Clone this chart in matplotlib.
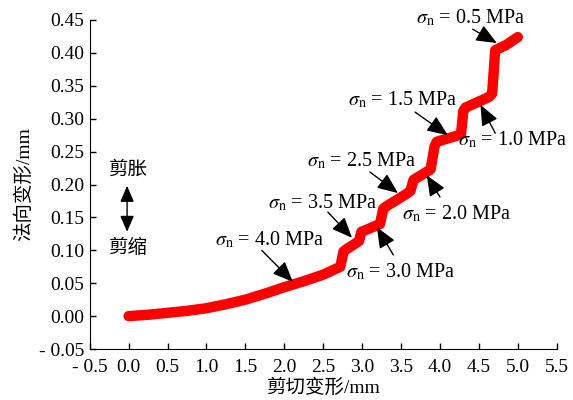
import numpy as np
import matplotlib.pyplot as plt

plt.rcParams['font.family'] = ['Liberation Serif', 'Noto Sans CJK SC']
plt.rcParams['mathtext.fontset'] = 'stix'
plt.rcParams['font.size'] = 14

# Сдвиговая и нормальная деформация, мм
shear = [0.00, 0.25, 0.50, 0.75, 1.00, 1.25, 1.50, 1.75, 2.00, 2.25, 2.50, 2.72,
         2.76, 2.79, 2.96, 2.99, 3.23, 3.27, 3.30, 3.56, 3.62, 3.66, 3.88, 3.93,
         3.96, 4.27, 4.30, 4.33, 4.63, 4.67, 4.71, 4.85, 5.00]
normal = [0.000, 0.002, 0.005, 0.008, 0.012, 0.018, 0.025, 0.034, 0.044, 0.053,
          0.063, 0.075, 0.098, 0.101, 0.114, 0.128, 0.140, 0.163, 0.166, 0.185,
          0.190, 0.207, 0.223, 0.258, 0.265, 0.276, 0.312, 0.317, 0.333, 0.338,
          0.404, 0.412, 0.424]

# Подписи нормального напряжения: текст, положение текста, хвост и голова стрелки
stress = ['0.5', '1.5', '1.0', '2.5', '2.0', '3.5', '3.0', '4.0']
text_xy = [(4.39, 0.453), (3.52, 0.328), (4.93, 0.267), (3.00, 0.236),
           (4.22, 0.155), (2.49, 0.172), (3.50, 0.067), (1.81, 0.116)]
tail_xy = [(4.42, 0.436), (3.68, 0.310), (4.71, 0.278), (3.10, 0.219),
           (4.00, 0.181), (2.56, 0.158), (3.40, 0.093), (1.71, 0.100)]
head_xy = [(4.73, 0.415), (4.10, 0.275), (4.52, 0.321), (3.46, 0.187),
           (3.83, 0.214), (2.87, 0.119), (3.19, 0.135), (2.11, 0.052)]

xticks = np.arange(-0.5, 5.51, 0.5)
yticks = np.arange(-0.05, 0.451, 0.05)

fig = plt.figure(figsize=(5.73, 4.0), dpi=100)
ax = fig.add_axes([0.1566, 0.1275, 0.815, 0.8225])

ax.plot(shear, normal, color='red', lw=7.5, solid_capstyle='round',
        solid_joinstyle='round')

for s, t, a, h in zip(stress, text_xy, tail_xy, head_xy):
    ax.text(t[0], t[1], r'$\sigma_{\rm n}$ = ' + s + ' MPa', ha='center',
            va='center', fontsize=14.5, clip_on=False)
    ax.annotate('', xy=h, xytext=a,
                arrowprops=dict(arrowstyle='-|>,head_length=0.9,head_width=0.38',
                                color='black', lw=1.0, shrinkA=0, shrinkB=0))

# 剪胀 / 剪缩 с двусторонней стрелкой
ax.text(-0.02, 0.222, '剪胀', ha='center', va='center', fontsize=14)
ax.text(-0.02, 0.103, '剪缩', ha='center', va='center', fontsize=14)
ax.annotate('', xy=(-0.02, 0.198), xytext=(-0.02, 0.128),
            arrowprops=dict(arrowstyle='<|-|>,head_length=0.7,head_width=0.3',
                            color='black', lw=1.0, shrinkA=0, shrinkB=0))

ax.set_xlim(-0.5, 5.5)
ax.set_ylim(-0.05, 0.45)
ax.set_xticks(xticks)
ax.set_yticks(yticks)
ax.set_xticklabels([('- %.1f' % -v) if v < 0 else '%.1f' % v for v in xticks])
ax.set_yticklabels([('- %.2f' % -v) if v < -1e-9 else '%.2f' % abs(v) for v in yticks])
ax.tick_params(direction='in', length=4, width=1)
ax.tick_params(axis='x', pad=7)
ax.tick_params(axis='y', pad=4)
ax.spines['top'].set_visible(False)
ax.spines['right'].set_visible(False)

ax.set_xlabel('剪切变形/mm', labelpad=2)
ax.set_ylabel('法向变形/mm', labelpad=4)

plt.savefig('out.png', dpi=100)
